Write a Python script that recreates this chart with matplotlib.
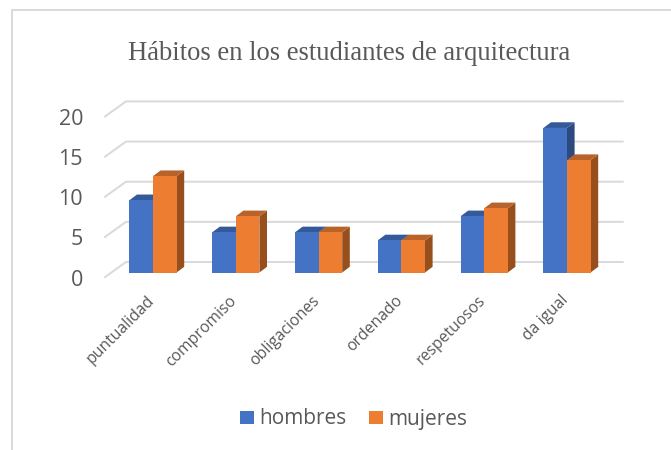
import matplotlib

matplotlib.use('Agg')
import matplotlib.pyplot as plt
from matplotlib.patches import Polygon, Rectangle

categories = ['puntualidad', 'compromiso', 'obligaciones', 'ordenado', 'respetuosos', 'da igual']
hombres = [9, 5, 5, 4, 7, 18]
mujeres = [12, 7, 5, 4, 8, 14]
y_ticks = [0, 5, 10, 15, 20]
title = 'Hábitos en los estudiantes de arquitectura'

W, H = 671, 450
BLUE, BLUE_TOP, BLUE_SIDE = '#4472c4', '#355a9c', '#2c4a80'
ORANGE, ORANGE_TOP, ORANGE_SIDE = '#ed7d31', '#b9622a', '#97501d'
GRID = '#d9d9d9'
TEXT = '#595959'
FONT = 'Open Sans'

PX_X = 82.8  # pixels per category
PX_Y = 8.03  # pixels per value unit
BAR_W = 23.6 / PX_X
DEPTH_X = 7.6 / PX_X
DEPTH_Y = 5.7 / PX_Y

fig = plt.figure(figsize=(W / 100, H / 100), dpi=100)

# axes box sits on the front plane of the bars
left, right, base, top = 100, 630, 272.5, 112
ax = fig.add_axes([left / W, 1 - base / H, (right - left) / W, (base - top) / H])
ax.set_xlim((left - 153) / PX_X, (right - 153) / PX_X)
ax.set_ylim(0, (base - top) / PX_Y)
ax.axis('off')


def draw_bar(x, val, front, top_c, side):
    x0, x1 = x, x + BAR_W
    ax.add_patch(Polygon([(x1, 0), (x1 + DEPTH_X, DEPTH_Y), (x1 + DEPTH_X, val + DEPTH_Y), (x1, val)],
                         fc=side, ec='none', clip_on=False, zorder=3))
    ax.add_patch(Polygon([(x0, val), (x0 + DEPTH_X, val + DEPTH_Y), (x1 + DEPTH_X, val + DEPTH_Y), (x1, val)],
                         fc=top_c, ec='none', clip_on=False, zorder=3))
    ax.add_patch(Rectangle((x0, 0), BAR_W, val, fc=front, ec='none', clip_on=False, zorder=4))


# gridlines: a slanted piece on the side wall and a long one on the back wall
back_dx = 21 / PX_X
front_dy = -4.6 / PX_Y
back_dy = 10.5 / PX_Y
x_front = (105 - 153) / PX_X
x_back = x_front + back_dx
x_end = (622.7 - 153) / PX_X
for v in y_ticks:
    ax.plot([x_front, x_back, x_end], [v + front_dy, v + back_dy, v + back_dy],
            color=GRID, lw=1.4, clip_on=False, zorder=1, solid_joinstyle='miter')
    ax.annotate(str(v), (x_front, v + front_dy), xytext=(-22, -3), textcoords='offset pixels',
                ha='right', va='center', family=FONT, fontsize=15.5, color=TEXT,
                annotation_clip=False)

for i, cat in enumerate(categories):
    # later bars overlap, so draw blue then orange
    draw_bar(i - BAR_W, hombres[i], BLUE, BLUE_TOP, BLUE_SIDE)
    draw_bar(i, mujeres[i], ORANGE, ORANGE_TOP, ORANGE_SIDE)
    ax.annotate(cat, (i, 0), xytext=(-7, -20), textcoords='offset pixels', rotation=45,
                rotation_mode='anchor', ha='right', va='top', family=FONT,
                fontsize=11.3, color=TEXT, annotation_clip=False)

fig.text(349 / W, 1 - 53 / H, title, ha='center', va='center', family='Liberation Serif',
         fontsize=19.2, color=TEXT)

# legend
for x0, lab, c in [(240, 'hombres', BLUE), (369, 'mujeres', ORANGE)]:
    fig.patches.append(Rectangle((x0 / W, 1 - 424 / H), 14 / W, 13 / H, transform=fig.transFigure,
                                 fc=c, ec='none', figure=fig))
    fig.text((x0 + 19) / W, 1 - 419 / H, lab, ha='left', va='center', family=FONT,
             fontsize=15, color=TEXT)

# chart frame
fig.add_artist(plt.Line2D([12 / W, 12 / W, 1], [0, 1 - 10 / H, 1 - 10 / H], color=GRID, lw=1.4))

fig.savefig('out.png', dpi=100)
